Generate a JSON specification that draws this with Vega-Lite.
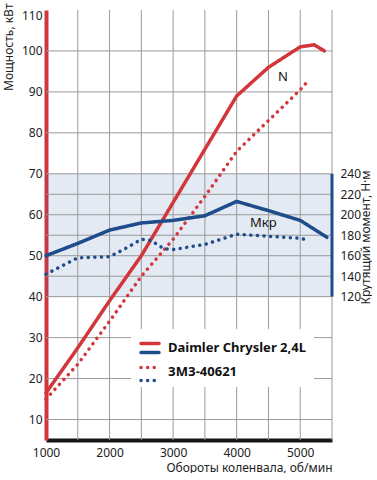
{
  "$schema": "https://vega.github.io/schema/vega-lite/v6.json",
  "width": 286,
  "height": 430,
  "padding": {"left": 2, "top": 2, "right": 0, "bottom": 0},
  "background": "white",
  "config": {
    "font": "Noto Sans",
    "view": {"stroke": null},
    "axis": {
      "labelFont": "Noto Sans",
      "titleFont": "Noto Sans",
      "labelColor": "#222",
      "titleColor": "#222",
      "titleFontWeight": "normal",
      "tickSize": 0,
      "grid": false,
      "labelFontSize": 12,
      "titleFontSize": 12
    }
  },
  "datasets": {
    "gridRpm": [{"rpm": 1500}, {"rpm": 2000}, {"rpm": 2500}, {"rpm": 3000}, {"rpm": 3500}, {"rpm": 4000}, {"rpm": 4500}, {"rpm": 5000}, {"rpm": 5500}],
    "gridPower": [{"value": 10}, {"value": 20}, {"value": 30}, {"value": 40}, {"value": 45}, {"value": 50}, {"value": 55}, {"value": 60}, {"value": 65}, {"value": 70}, {"value": 80}, {"value": 90}, {"value": 100}],
    "power": [
      {"rpm": 1000, "value": 16.5, "engine": "Daimler Chrysler 2,4L"},
      {"rpm": 1500, "value": 27.5, "engine": "Daimler Chrysler 2,4L"},
      {"rpm": 2000, "value": 39, "engine": "Daimler Chrysler 2,4L"},
      {"rpm": 2500, "value": 50, "engine": "Daimler Chrysler 2,4L"},
      {"rpm": 3000, "value": 63, "engine": "Daimler Chrysler 2,4L"},
      {"rpm": 3500, "value": 76, "engine": "Daimler Chrysler 2,4L"},
      {"rpm": 4000, "value": 89, "engine": "Daimler Chrysler 2,4L"},
      {"rpm": 4500, "value": 96, "engine": "Daimler Chrysler 2,4L"},
      {"rpm": 5000, "value": 101, "engine": "Daimler Chrysler 2,4L"},
      {"rpm": 5220, "value": 101.5, "engine": "Daimler Chrysler 2,4L"},
      {"rpm": 5380, "value": 100, "engine": "Daimler Chrysler 2,4L"},
      {"rpm": 1000, "value": 15, "engine": "ЗМЗ-40621"},
      {"rpm": 1500, "value": 23.5, "engine": "ЗМЗ-40621"},
      {"rpm": 2000, "value": 34, "engine": "ЗМЗ-40621"},
      {"rpm": 2500, "value": 45, "engine": "ЗМЗ-40621"},
      {"rpm": 3000, "value": 54, "engine": "ЗМЗ-40621"},
      {"rpm": 3500, "value": 64.5, "engine": "ЗМЗ-40621"},
      {"rpm": 4000, "value": 75.5, "engine": "ЗМЗ-40621"},
      {"rpm": 4500, "value": 83, "engine": "ЗМЗ-40621"},
      {"rpm": 5000, "value": 90.5, "engine": "ЗМЗ-40621"},
      {"rpm": 5140, "value": 93, "engine": "ЗМЗ-40621"}
    ],
    "torque": [
      {"rpm": 1000, "torque": 160, "engine": "Daimler Chrysler 2,4L"},
      {"rpm": 1500, "torque": 172, "engine": "Daimler Chrysler 2,4L"},
      {"rpm": 2000, "torque": 185, "engine": "Daimler Chrysler 2,4L"},
      {"rpm": 2500, "torque": 192, "engine": "Daimler Chrysler 2,4L"},
      {"rpm": 3000, "torque": 194.5, "engine": "Daimler Chrysler 2,4L"},
      {"rpm": 3500, "torque": 199, "engine": "Daimler Chrysler 2,4L"},
      {"rpm": 4000, "torque": 213, "engine": "Daimler Chrysler 2,4L"},
      {"rpm": 4500, "torque": 204, "engine": "Daimler Chrysler 2,4L"},
      {"rpm": 5000, "torque": 194.5, "engine": "Daimler Chrysler 2,4L"},
      {"rpm": 5420, "torque": 178, "engine": "Daimler Chrysler 2,4L"},
      {"rpm": 1000, "torque": 142, "engine": "ЗМЗ-40621"},
      {"rpm": 1500, "torque": 158, "engine": "ЗМЗ-40621"},
      {"rpm": 2000, "torque": 159, "engine": "ЗМЗ-40621"},
      {"rpm": 2250, "torque": 167, "engine": "ЗМЗ-40621"},
      {"rpm": 2500, "torque": 176, "engine": "ЗМЗ-40621"},
      {"rpm": 2650, "torque": 175, "engine": "ЗМЗ-40621"},
      {"rpm": 2850, "torque": 167, "engine": "ЗМЗ-40621"},
      {"rpm": 3000, "torque": 166, "engine": "ЗМЗ-40621"},
      {"rpm": 3500, "torque": 171, "engine": "ЗМЗ-40621"},
      {"rpm": 4000, "torque": 181, "engine": "ЗМЗ-40621"},
      {"rpm": 4500, "torque": 179, "engine": "ЗМЗ-40621"},
      {"rpm": 5000, "torque": 177, "engine": "ЗМЗ-40621"},
      {"rpm": 5140, "torque": 175, "engine": "ЗМЗ-40621"}
    ],
    "labelsPower": [{"rpm": 4730, "value": 93.7, "label": "N"}],
    "labelsTorque": [{"rpm": 4420, "torque": 192, "label": "Мкр"}]
  },
  "layer": [
    {
      "layer": [
        {
          "data": {"values": [{}]},
          "mark": {"type": "rect", "fill": "#2f5aa8", "opacity": 0.13},
          "encoding": {
            "x": {"datum": 1000, "type": "quantitative", "scale": {"domain": [1000, 5500], "nice": false}},
            "x2": {"datum": 5500},
            "y": {"datum": 40, "type": "quantitative", "scale": {"domain": [5, 110], "nice": false, "zero": false}},
            "y2": {"datum": 70}
          }
        },
        {
          "data": {"name": "gridRpm"},
          "mark": {"type": "rule", "color": "#9a9a9a", "strokeWidth": 1},
          "encoding": {
            "x": {"field": "rpm", "type": "quantitative"}
          }
        },
        {
          "data": {"name": "gridPower"},
          "mark": {"type": "rule", "color": "#9a9a9a", "strokeWidth": 1},
          "encoding": {
            "y": {"field": "value", "type": "quantitative"}
          }
        },
        {
          "data": {"name": "power"},
          "mark": {"type": "line", "color": "#d2363b", "strokeWidth": 3.5, "strokeCap": "round", "strokeJoin": "round"},
          "encoding": {
            "x": {
              "field": "rpm", "type": "quantitative",
              "scale": {"domain": [1000, 5500], "nice": false},
              "axis": {
                "values": [1000, 2000, 3000, 4000, 5000],
                "format": "d",
                "labelFlush": false,
                "labelOverlap": false,
                "grid": false,
                "domainColor": "#151515", "domainWidth": 4,
                "labelPadding": 7,
                "title": "Обороты коленвала, об/мин",
                "titleAnchor": "end", "titlePadding": 4
              }
            },
            "y": {
              "field": "value", "type": "quantitative",
              "scale": {"domain": [5, 110], "nice": false, "zero": false},
              "axis": {
                "values": [10, 20, 30, 40, 50, 60, 70, 80, 90, 100, 110],
                "labelOverlap": false,
                "labelBaseline": {"condition": {"test": "datum.value == 110", "value": "top"}, "value": "middle"},
                "grid": false,
                "domainColor": "#d2363b", "domainWidth": 4,
                "labelPadding": 4,
                "title": "Мощность, кВт",
                "titleAnchor": "end", "titleY": -7, "titlePadding": 6
              }
            },
            "strokeDash": {
              "field": "engine", "type": "nominal",
              "scale": {"domain": ["Daimler Chrysler 2,4L", "ЗМЗ-40621"], "range": [[1, 0], [0.1, 6.5]]},
              "legend": {
                "orient": "none", "legendX": 85, "legendY": 319,
                "title": null, "fillColor": "white", "padding": 8,
                "symbolType": "M-1,-0.5L1,-0.5", "symbolSize": 324,
                "symbolStrokeColor": "#d2363b", "symbolStrokeWidth": 3.5,
                "labelFont": "Noto Sans", "labelFontWeight": "bold", "labelFontSize": 13,
                "labelColor": "#111", "labelOffset": 7, "rowPadding": 5, "zindex": 3,
                "encode": {"symbols": {"update": {"strokeCap": {"value": "round"}}}}
              }
            }
          }
        },
        {
          "data": {"name": "labelsPower"},
          "mark": {"type": "text", "fontSize": 13, "color": "#111", "font": "Noto Sans"},
          "encoding": {
            "x": {"field": "rpm", "type": "quantitative"},
            "y": {"field": "value", "type": "quantitative"},
            "text": {"field": "label"}
          }
        }
      ]
    },
    {
      "layer": [
        {
          "data": {"name": "torque"},
          "mark": {"type": "line", "color": "#1f4d8c", "strokeWidth": 3.5, "strokeCap": "round", "strokeJoin": "round"},
          "encoding": {
            "x": {"field": "rpm", "type": "quantitative"},
            "y": {
              "field": "torque", "type": "quantitative",
              "scale": {"domain": [-20, 400], "nice": false, "zero": false},
              "axis": {
                "orient": "right",
                "values": [120, 140, 160, 180, 200, 220, 240],
                "labelOverlap": false,
                "grid": false, "domain": false,
                "labelPadding": 8,
                "title": "Крутящий момент, Н·м",
                "titleAngle": 270, "titleBaseline": "top",
                "titleAnchor": "middle", "titleY": 227, "titlePadding": 0
              }
            },
            "strokeDash": {
              "field": "engine", "type": "nominal",
              "scale": {"domain": ["Daimler Chrysler 2,4L", "ЗМЗ-40621"], "range": [[1, 0], [0.1, 6.5]]},
              "legend": {
                "orient": "none", "legendX": 85, "legendY": 319,
                "title": null, "padding": 8,
                "symbolType": "M-1,0.5L1,0.5", "symbolSize": 324,
                "symbolStrokeColor": "#1f4d8c", "symbolStrokeWidth": 3.5,
                "labelFontSize": 13, "labelExpr": "''",
                "labelOffset": 7, "rowPadding": 5, "zindex": 4,
                "encode": {"symbols": {"update": {"strokeCap": {"value": "round"}}}}
              }
            }
          }
        },
        {
          "data": {"values": [{}]},
          "mark": {"type": "rule", "color": "#1f4d8c", "strokeWidth": 3},
          "encoding": {
            "x": {"datum": 5500, "type": "quantitative"},
            "y": {"datum": 120, "type": "quantitative"},
            "y2": {"datum": 240}
          }
        },
        {
          "data": {"name": "labelsTorque"},
          "mark": {"type": "text", "fontSize": 13, "color": "#111", "font": "Noto Sans"},
          "encoding": {
            "x": {"field": "rpm", "type": "quantitative"},
            "y": {"field": "torque", "type": "quantitative"},
            "text": {"field": "label"}
          }
        }
      ]
    }
  ],
  "resolve": {
    "scale": {"y": "independent", "strokeDash": "independent"},
    "legend": {"strokeDash": "independent"}
  }
}
